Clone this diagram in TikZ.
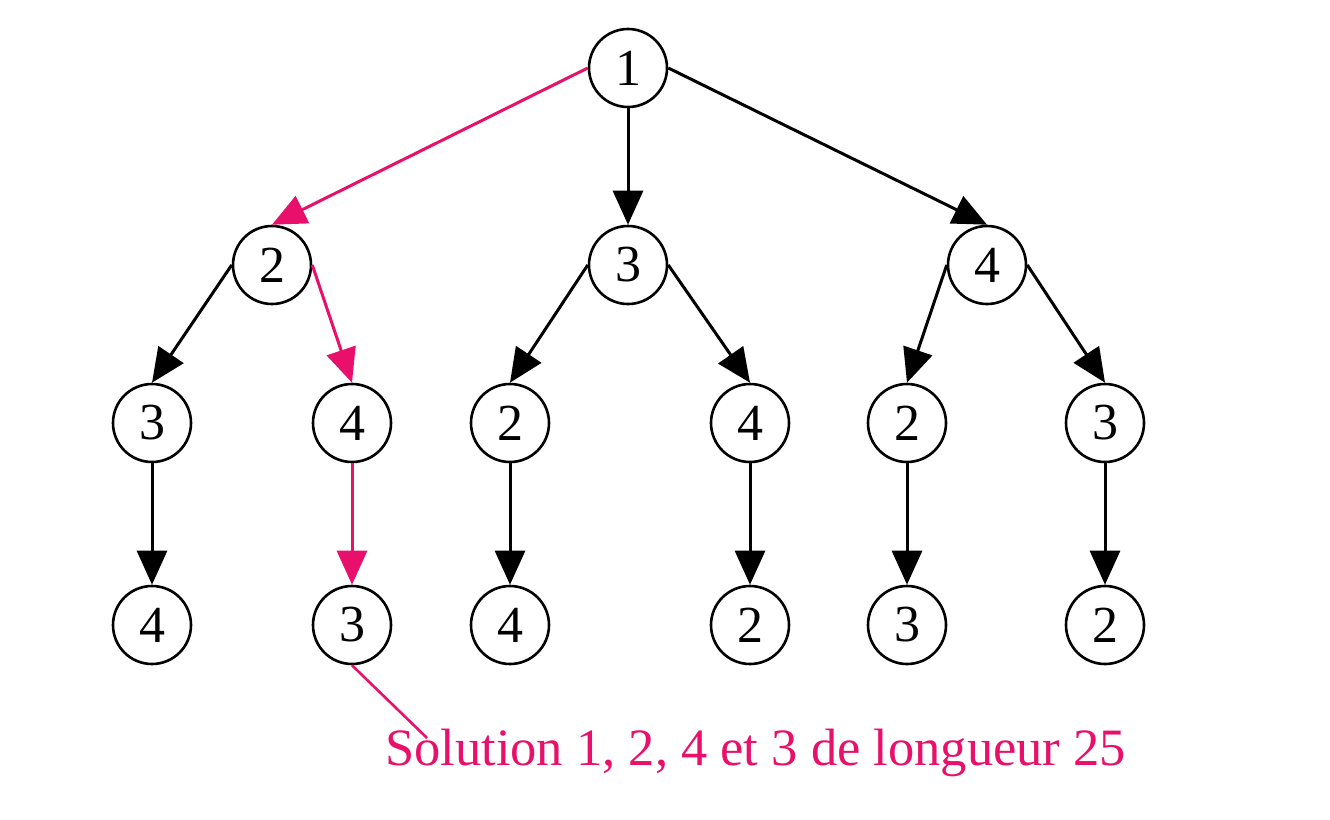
\documentclass[tikz,border=0pt]{standalone}
\usepackage{fontspec}
\setmainfont{Liberation Serif}
\usetikzlibrary{arrows.meta}
\definecolor{pinkred}{RGB}{232,16,106}
\begin{document}
\begin{tikzpicture}[x=1pt,y=-1pt,
  vtx/.style={circle,draw=black,line width=2.6pt,minimum size=78pt,inner sep=0pt,font=\fontsize{52}{62}\selectfont},
  edge/.style={line width=3pt,-{Triangle[length=34pt,width=30pt]},black},
  sol/.style={edge,draw=pinkred,fill=pinkred}]
\useasboundingbox (0,0) rectangle (1330,819);
\node[vtx] (r) at (628,68) {1};
\node[vtx] (a) at (272,265) {2};
\node[vtx] (b) at (628,265) {3};
\node[vtx] (c) at (987,265) {4};
\node[vtx] (a1) at (152,423) {3};
\node[vtx] (a2) at (352,423) {4};
\node[vtx] (b1) at (510,423) {2};
\node[vtx] (b2) at (750,423) {4};
\node[vtx] (c1) at (907,423) {2};
\node[vtx] (c2) at (1105,423) {3};
\node[vtx] (a11) at (152,625) {4};
\node[vtx] (a21) at (352,625) {3};
\node[vtx] (b11) at (510,625) {4};
\node[vtx] (b21) at (750,625) {2};
\node[vtx] (c11) at (907,625) {3};
\node[vtx] (c21) at (1105,625) {2};
\draw[sol] (r.west) -- (a.north);
\draw[edge] (r.south) -- (b.north);
\draw[edge] (r.east) -- (c.north);
\draw[edge] (a.west) -- (a1.north);
\draw[sol] (a.east) -- (a2.north);
\draw[edge] (b.west) -- (b1.north);
\draw[edge] (b.east) -- (b2.north);
\draw[edge] (c.west) -- (c1.north);
\draw[edge] (c.east) -- (c2.north);
\draw[edge] (a1.south) -- (a11.north);
\draw[sol] (a2.south) -- (a21.north);
\draw[edge] (b1.south) -- (b11.north);
\draw[edge] (b2.south) -- (b21.north);
\draw[edge] (c1.south) -- (c11.north);
\draw[edge] (c2.south) -- (c21.north);
\node[anchor=base west,inner sep=0pt,text=pinkred,font=\fontsize{52.5}{62}\selectfont] (lbl) at (385,765) {Solution 1, 2, 4 et 3 de longueur 25};
\coordinate (lp) at (427,738);
\draw[pinkred,line width=2.6pt] (a21.south) -- (lp);
\end{tikzpicture}
\end{document}
